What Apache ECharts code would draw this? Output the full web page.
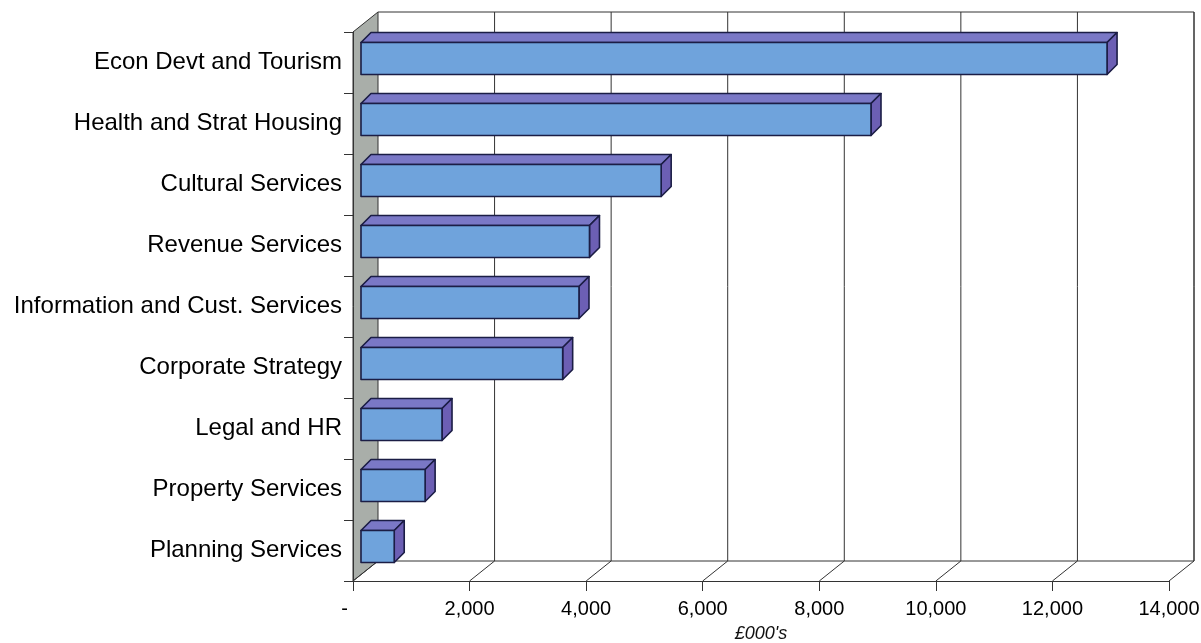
<!DOCTYPE html>
<html>
<head>
<meta charset="utf-8">
<script src="https://cdn.jsdelivr.net/npm/echarts@6/dist/echarts.min.js"></script>
<style>
html,body{margin:0;padding:0;background:#fff;}
#chart{width:1201px;height:643px;}
</style>
</head>
<body>
<div id="chart"></div>
<script>
// ---- data ----
var categories = [
  'Econ Devt and Tourism',
  'Health and Strat Housing',
  'Cultural Services',
  'Revenue Services',
  'Information and Cust. Services',
  'Corporate Strategy',
  'Legal and HR',
  'Property Services',
  'Planning Services'
];
var values = [12800, 8750, 5150, 3920, 3740, 3460, 1390, 1100, 570];
var xTicks = [0, 2000, 4000, 6000, 8000, 10000, 12000, 14000];
var axisTitle = "£000's";

// ---- style constants ----
var WALL_DX = 25, WALL_DY = -20;     // depth of the 3D frame
var BAR_OX = 8, BAR_OY = -4;         // front face offset of bars
var BAR_H = 32;                      // bar face height
var BAR_DX = 10, BAR_DY = -10;       // bar depth
var LINE = '#333333';
var EDGE = '#1b1d45';

function fmt(v) {
  if (v === 0) return '-   ';
  var s = String(v);
  return s.replace(/\B(?=(\d{3})+(?!\d))/g, ',');
}

var chart = echarts.init(document.getElementById('chart'), null, {renderer: 'canvas'});

var barData = values.map(function (v, i) { return [v, i]; });

var option = {
  backgroundColor: '#ffffff',
  animation: false,
  textStyle: {fontFamily: '"Liberation Sans", Arial, sans-serif'},
  grid: {left: 353, right: 32, top: 32, bottom: 62, containLabel: false, outerBoundsMode: 'none'},
  xAxis: {
    type: 'value', min: 0, max: 14000, interval: 2000,
    z: 10,
    axisLine: {show: true, lineStyle: {color: LINE, width: 1}},
    axisTick: {show: true, length: 10, lineStyle: {color: LINE}},
    splitLine: {show: false},
    axisLabel: {
      formatter: fmt, color: '#000', fontSize: 20, margin: 18,
      fontFamily: '"Liberation Sans", Arial, sans-serif'
    },
    name: axisTitle, nameLocation: 'middle', nameGap: 44,
    nameTextStyle: {fontStyle: 'italic', fontSize: 18, color: '#111',
      fontFamily: '"Liberation Sans", Arial, sans-serif'}
  },
  yAxis: {
    type: 'category', data: categories, inverse: true,
    z: 10,
    axisLine: {show: true, lineStyle: {color: LINE, width: 1}},
    axisTick: {show: true, length: 9, lineStyle: {color: LINE}},
    splitLine: {show: false},
    axisLabel: {color: '#000', fontSize: 24, margin: 11,
      fontFamily: '"Liberation Sans", Arial, sans-serif'}
  },
  series: [
    {
      // wall + back plane frame
      type: 'custom', name: 'frame', z: 1, clip: false, silent: true,
      data: [[0]],
      renderItem: function (params, api) {
        var cs = params.coordSys;
        var x0 = cs.x, y0 = cs.y, x1 = cs.x + cs.width, y1 = cs.y + cs.height;
        var bx0 = x0 + WALL_DX, by0 = y0 + WALL_DY, bx1 = x1 + WALL_DX, by1 = y1 + WALL_DY;
        return {
          type: 'group',
          children: [
            {type: 'polygon', shape: {points: [[x0, y0], [bx0, by0], [bx0, by1], [x0, y1]]},
              style: {fill: '#a9aea9', stroke: LINE, lineWidth: 1}},
            {type: 'polyline', shape: {points: [[bx0, by0], [bx1, by0], [bx1, by1]]},
              style: {fill: null, stroke: LINE, lineWidth: 1}},
            {type: 'line', shape: {x1: bx0, y1: by1, x2: bx1, y2: by1},
              style: {stroke: LINE, lineWidth: 1}}
          ]
        };
      }
    },
    {
      // gridlines on back plane and floor
      type: 'custom', name: 'grid', z: 2, clip: false, silent: true,
      data: xTicks.map(function (t) { return [t]; }),
      encode: {x: 0},
      renderItem: function (params, api) {
        var cs = params.coordSys;
        var x = api.coord([api.value(0), 0])[0];
        var yTop = cs.y + WALL_DY, yBot = cs.y + cs.height;
        var children = [
          {type: 'line', shape: {x1: x, y1: yBot, x2: x + WALL_DX, y2: yBot + WALL_DY},
            style: {stroke: LINE, lineWidth: 1}}
        ];
        if (api.value(0) !== 0) {
          children.push({type: 'line', shape: {x1: x + WALL_DX, y1: yTop, x2: x + WALL_DX, y2: yBot + WALL_DY},
            style: {stroke: LINE, lineWidth: 1}});
        }
        return {type: 'group', children: children};
      }
    },
    {
      type: 'custom', name: 'Spend', z: 5, clip: false,
      data: barData,
      encode: {x: 0, y: 1},
      renderItem: function (params, api) {
        var idx = api.value(1);
        var p0 = api.coord([0, idx]);
        var p1 = api.coord([api.value(0), idx]);
        var xl = p0[0] + BAR_OX, xr = p1[0] + BAR_OX;
        var yc = p0[1] + BAR_OY;
        var yt = yc - BAR_H / 2, yb = yc + BAR_H / 2;
        var edge = {stroke: EDGE, lineWidth: 1.6, lineJoin: 'round'};
        return {
          type: 'group',
          children: [
            {type: 'polygon', shape: {points: [[xl, yt], [xr, yt], [xr + BAR_DX, yt + BAR_DY], [xl + BAR_DX, yt + BAR_DY]]},
              style: Object.assign({fill: '#7a78c6'}, edge)},
            {type: 'polygon', shape: {points: [[xr, yt], [xr + BAR_DX, yt + BAR_DY], [xr + BAR_DX, yb + BAR_DY], [xr, yb]]},
              style: Object.assign({fill: '#6c5fb4'}, edge)},
            {type: 'rect', shape: {x: xl, y: yt, width: xr - xl, height: BAR_H},
              style: Object.assign({fill: '#6fa3dc'}, edge)}
          ]
        };
      }
    }
  ]
};
chart.setOption(option);
</script>
</body>
</html>
